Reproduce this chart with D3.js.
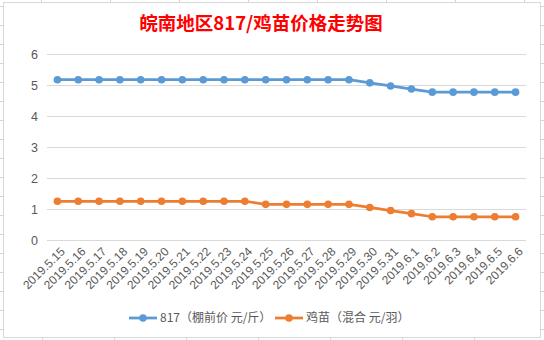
<!DOCTYPE html>
<html><head><meta charset="utf-8">
<script src="https://cdn.jsdelivr.net/npm/d3@7"></script>
<style>
html,body{margin:0;padding:0;background:#fff;}
svg{display:block;}
</style>
</head><body>
<svg id="chart" width="544" height="340"></svg>
<script>
const title = "皖南地区817/鸡苗价格走势图";
const categories = ["2019.5.15","2019.5.16","2019.5.17","2019.5.18","2019.5.19","2019.5.20","2019.5.21","2019.5.22","2019.5.23","2019.5.24","2019.5.25","2019.5.26","2019.5.27","2019.5.28","2019.5.29","2019.5.30","2019.5.31","2019.6.1","2019.6.2","2019.6.3","2019.6.4","2019.6.5","2019.6.6"];
const seriesNames = ["817（棚前价 元/斤）","鸡苗（混合 元/羽）"];
const s817 = [5.17,5.17,5.17,5.17,5.17,5.17,5.17,5.17,5.17,5.17,5.17,5.17,5.17,5.17,5.17,5.07,4.97,4.87,4.77,4.77,4.77,4.77,4.77];
const sChick = [1.25,1.25,1.25,1.25,1.25,1.25,1.25,1.25,1.25,1.25,1.15,1.15,1.15,1.15,1.15,1.05,0.95,0.85,0.75,0.75,0.75,0.75,0.75];
const yTicks = [0,1,2,3,4,5,6];
const colors = ["#5B9BD5","#ED7D31"];

const svg = d3.select("#chart");
const W = 544, H = 340;

// spreadsheet backdrop ticks
const sheet = svg.append("g").attr("stroke","#D4D4D4").attr("stroke-width",1);
d3.range(6, H, 19).forEach(y=>{
  sheet.append("line").attr("x1",0).attr("x2",3).attr("y1",y+0.5).attr("y2",y+0.5);
  sheet.append("line").attr("x1",541).attr("x2",544).attr("y1",y+0.5).attr("y2",y+0.5);
});
d3.range(41, W, 69).forEach(x=>{
  sheet.append("line").attr("x1",x+0.5).attr("x2",x+0.5).attr("y1",0).attr("y2",2);
});
d3.range(42, W, 72).forEach(x=>{
  sheet.append("line").attr("x1",x+0.5).attr("x2",x+0.5).attr("y1",338).attr("y2",340);
});
svg.append("rect").attr("x",3.5).attr("y",2.5).attr("width",537).attr("height",335)
  .attr("fill","#fff").attr("stroke","#D9D9D9").attr("stroke-width",1);

// title
svg.append("text").attr("x",261).attr("y",30).attr("text-anchor","middle")
  .attr("font-family","'Noto Sans CJK SC', sans-serif").attr("font-weight","bold")
  .attr("font-size",18.5).attr("fill","#FF0000").text(title);

const x = d3.scaleBand().domain(categories).range([47,526]);
const y = d3.scaleLinear().domain([0,6]).range([240,54]);

// grid
const grid = svg.append("g");
yTicks.forEach(t=>{
  grid.append("line").attr("x1",47).attr("x2",526)
    .attr("y1",Math.round(y(t))+0.5).attr("y2",Math.round(y(t))+0.5)
    .attr("stroke","#D9D9D9").attr("stroke-width",1);
});

// y axis labels
const yAxis = d3.axisLeft(y).tickValues(yTicks).tickSize(0).tickPadding(0).tickFormat(d3.format("d"));
const gy = svg.append("g").attr("transform","translate(38,0)").call(yAxis);
gy.select(".domain").remove();
gy.selectAll("text").attr("font-family","'Liberation Sans', Arial, sans-serif").attr("font-size",12.5).attr("fill","#595959");

// x axis labels
const xAxis = d3.axisBottom(x).tickSize(0).tickPadding(0);
const gx = svg.append("g").attr("transform","translate(0,240)").call(xAxis);
gx.select(".domain").remove();
gx.selectAll("text")
  .attr("font-family","'Liberation Sans', Arial, sans-serif").attr("font-size",12).attr("fill","#595959")
  .attr("text-anchor","end").attr("dy",null).attr("y",0).attr("x",0)
  .attr("transform","translate(6,10) rotate(-45)")
  .attr("dominant-baseline","middle");

// lines
const line = d3.line().x((d,i)=>x(categories[i])+x.bandwidth()/2).y(d=>y(d));
[s817, sChick].forEach((s,k)=>{
  svg.append("path").datum(s).attr("d",line).attr("fill","none")
    .attr("stroke",colors[k]).attr("stroke-width",2.75).attr("stroke-linejoin","round");
  svg.append("g").selectAll("circle").data(s).join("circle")
    .attr("cx",(d,i)=>x(categories[i])+x.bandwidth()/2).attr("cy",d=>y(d))
    .attr("r",3.8).attr("fill",colors[k]);
});

// legend
const legendX = [129, 275];
const leg = svg.append("g");
seriesNames.forEach((name,k)=>{
  const g = leg.append("g").attr("transform",`translate(${legendX[k]},318)`);
  g.append("line").attr("x1",0).attr("x2",28).attr("y1",0).attr("y2",0)
    .attr("stroke",colors[k]).attr("stroke-width",2.75);
  g.append("circle").attr("cx",14).attr("cy",0).attr("r",3.8).attr("fill",colors[k]);
  g.append("text").attr("x",31).attr("y",0).attr("dy","0.35em")
    .attr("font-family","'Noto Sans CJK SC', sans-serif").attr("font-size",12)
    .attr("fill","#595959").text(name);
});
</script>
</body></html>
